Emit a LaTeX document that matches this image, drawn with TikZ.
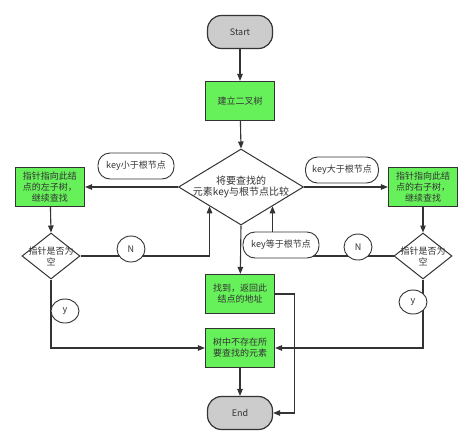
\documentclass[tikz,border=0pt]{standalone}
\usepackage{fontspec}
\setmainfont{Noto Sans CJK SC}
\usetikzlibrary{shapes.geometric,arrows.meta}
\definecolor{boxgreen}{RGB}{102,240,90}
\definecolor{termgray}{RGB}{204,204,204}
\definecolor{linegray}{RGB}{51,51,51}

\begin{document}
\begin{tikzpicture}[x=1pt, y=-1pt,
	every node/.style={text=linegray, font=\fontsize{9}{11}\selectfont, inner sep=0pt},
	term/.style={draw=linegray, line width=1.2pt, fill=termgray, rounded corners=14pt,
		minimum width=65pt, minimum height=33pt},
	act/.style={draw=linegray, line width=1.2pt, fill=boxgreen, align=center,
		minimum width=69pt, minimum height=39pt},
	test/.style={draw=linegray, line width=1pt, fill=white, diamond},
	lbl/.style={draw=linegray, line width=0.9pt, fill=white, rounded corners=12pt,
		minimum width=76pt, minimum height=26pt},
	yn/.style={draw=linegray, line width=0.9pt, fill=white, ellipse,
		minimum width=28pt, minimum height=26pt},
	flow/.style={draw=linegray, line width=1.1pt, -{Triangle[length=7pt,width=5.5pt]}}]
	\useasboundingbox (0,0) rectangle (474,445);

	\node[term] (start) at (240,32) {Start};
	\node[act] (build) at (240,101) {建立二叉树};

	\node[test, minimum width=125pt, minimum height=76pt] (cmp) at (241,187) {};
	\node[align=center, font=\fontsize{10}{11.5}\selectfont] (cmptext) at (cmp) {将要查找的\\元素key与根节点比较};

	\node[act] (lact) at (50,187) {指针指向此结\\点的左子树，\\继续查找};
	\node[act] (ract) at (423,187) {指针指向此结\\点的右子树，\\继续查找};

	\node[test, minimum width=58pt, minimum height=46pt] (ltest) at (51,256) {};
	\node[align=center] (ltesttext) at (ltest) {指针是否为\\空};
	\node[test, minimum width=58pt, minimum height=46pt] (rtest) at (423,256) {};
	\node[align=center] (rtesttext) at (rtest) {指针是否为\\空};

	\node[act] (found) at (240,294) {找到，返回此\\结点的地址};
	\node[act] (none) at (240,348) {树中不存在所\\要查找的元素};
	\node[term] (end) at (240,413) {End};

	% arrows
	\draw[flow] (start) -- (build);
	\draw[flow] (build) -- (cmp.north);
	\draw[flow] (cmp.west) -- (cmp.west -| lact.east);
	\draw[flow] (cmp.east) -- (cmp.east -| ract.west);
	\draw[flow] (lact) -- (ltest.north);
	\draw[flow] (ract) -- (rtest.north);
	\draw[flow] (ltest.east) -| (cmp.south west);
	\draw[flow] (rtest.west) -| (cmp.south east);
	\draw[flow] (cmp.south) -- (found);
	\draw[flow] (found.east) -- ++(19,0) |- (end.east);
	\draw[flow] (ltest.south) |- (none.west);
	\draw[flow] (rtest.south) |- (none.east);
	\draw[flow] (none) -- (end);

	% labels
	\node[lbl] (lt) at (136,166) {key小于根节点};
	\node[lbl, minimum width=73pt] (gt) at (342,170) {key大于根节点};
	\node[lbl] (eq) at (281,245) {key等于根节点};
	\node[yn] (ln) at (131,249) {N};
	\node[yn] (rn) at (358,247) {N};
	\node[yn, minimum height=24pt] (ly) at (65,311) {y};
	\node[yn, minimum height=24pt] (ry) at (413,302) {y};
\end{tikzpicture}
\end{document}
